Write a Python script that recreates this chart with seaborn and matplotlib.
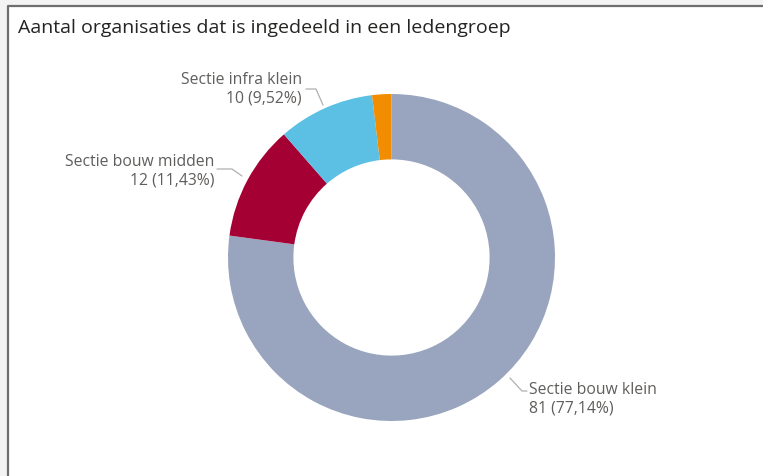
import matplotlib
matplotlib.use("Agg")
import matplotlib.pyplot as plt
import seaborn as sns
from matplotlib.patches import Rectangle

# Data
categories = ["Sectie bouw klein", "Sectie bouw midden", "Sectie infra klein", "Overig"]
values = [81, 12, 10, 2]
colors = ["#99A5BE", "#A50034", "#5BC0E4", "#F28C00"]
title = "Aantal organisaties dat is ingedeeld in een ledengroep"

sns.set_theme(style="white")
plt.rcParams["font.family"] = ["Open Sans", "DejaVu Sans"]

W, H = 763, 477
fig = plt.figure(figsize=(W / 100, H / 100), dpi=100)
fig.patch.set_facecolor("white")

# Outer light background strips and card border
bg = fig.add_axes([0, 0, 1, 1])
bg.set_xlim(0, W)
bg.set_ylim(H, 0)
bg.axis("off")
bg.add_patch(Rectangle((0, 0), W, 6, facecolor="#F3F3F3", edgecolor="none"))
bg.add_patch(Rectangle((0, 0), 7, H, facecolor="#F3F3F3", edgecolor="none"))
bg.plot([7.5, 7.5], [H, 10], color="#6E6E6E", lw=1.6, solid_capstyle="butt")
bg.plot([12, W], [6.5, 6.5], color="#6E6E6E", lw=1.6, solid_capstyle="butt")
bg.plot([7.5, 7.5, 12], [10, 6.5, 6.5], color="#6E6E6E", lw=1.6)

ax = fig.add_axes([0, 0, 1, 1])
ax.patch.set_alpha(0)
cx, cy = 391.5, H - 258.5
R = 163.5
total = sum(values)
wedges, _ = ax.pie(values, colors=colors, startangle=90, counterclock=False,
                   center=(cx, cy), radius=R,
                   wedgeprops=dict(width=R * 0.4, edgecolor="none"))
ax.set_xlim(0, W)
ax.set_ylim(0, H)
ax.set_aspect("equal")
ax.axis("off")

def lab(i):
    pct = f"{values[i] / total * 100:.2f}".replace(".", ",")
    return f"{categories[i]}\n{values[i]} ({pct}%)"

lc = "#B0B0B0"
tc = "#605E5C"
fs = 11.3
# klein (right bottom)
ax.plot([510, 522, 527], [H - 379, H - 392, H - 392], color=lc, lw=0.9)
ax.text(529, H - 399, lab(0), ha="left", va="center", fontsize=fs, color=tc, linespacing=1.2)
# midden (left)
ax.plot([242, 232, 217], [H - 177, H - 170, H - 170], color=lc, lw=0.9)
ax.text(214, H - 171, lab(1), ha="right", va="center", fontsize=fs, color=tc, linespacing=1.2)
# infra (top left)
ax.plot([323, 316, 306], [H - 106, H - 90, H - 90], color=lc, lw=0.9)
ax.text(302, H - 89, lab(2), ha="right", va="center", fontsize=fs, color=tc, linespacing=1.2)

fig.text(18 / W, 1 - 28 / H, title, ha="left", va="center", fontsize=14, color="#252423")

fig.savefig("out.png", dpi=100)
